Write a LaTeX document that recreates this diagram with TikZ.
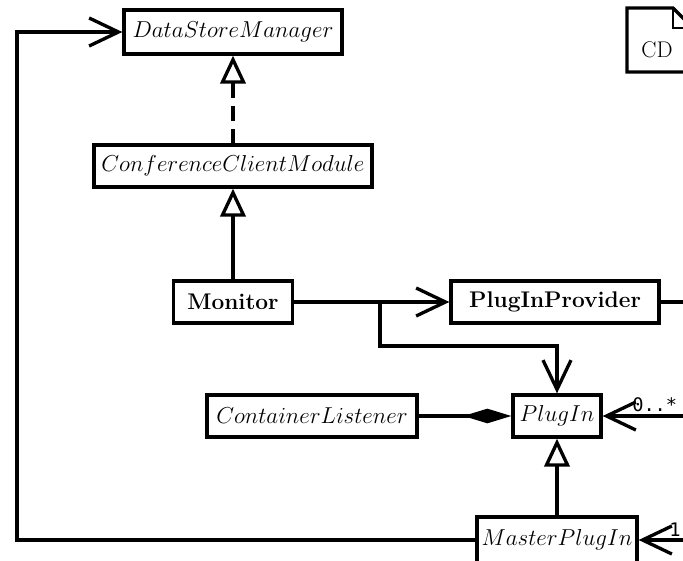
\documentclass[tikz,border=0pt]{standalone}
\usepackage{fontspec}
\newfontfamily\labelfont{DejaVu Sans Mono}
\usetikzlibrary{arrows.meta}
\begin{document}
\begin{tikzpicture}[x=0.75pt,y=-0.75pt,
  umlbox/.style={draw,line width=2.5pt,fill=white,inner sep=0pt,font=\fontsize{17}{20}\selectfont},
  conn/.style={line width=2.5pt},
  openarrow/.style={conn,-{Straight Barb[length=22pt,width=21pt,line width=2.5pt]}},
  realize/.style={conn,-{Triangle[open,length=21pt,width=19pt,line width=2.5pt]}},
  compose/.style={conn,-{Diamond[length=36pt,width=11pt]}},
  multlabel/.style={font=\labelfont\fontsize{14}{16}\selectfont,inner sep=0pt}]
\useasboundingbox (0,0) rectangle (683,561);
\clip (0,0) rectangle (683,561);
\fill[white] (0,0) rectangle (683,561);
% nodes
\node[umlbox,minimum width=163.5pt,minimum height=33pt] (dsm) at (233,32) {$DataStoreManager$};
\node[umlbox,minimum width=208.5pt,minimum height=31.5pt] (ccm) at (233,166) {$ConferenceClientModule$};
\node[umlbox,minimum width=89pt,minimum height=31.5pt] (mon) at (233,302) {\bfseries Monitor};
\node[umlbox,minimum width=156pt,minimum height=31.5pt] (pip) at (555,302) {\bfseries PlugInProvider};
\node[umlbox,minimum width=157.5pt,minimum height=31.5pt] (cl) at (312,416) {$ContainerListener$};
\node[umlbox,minimum width=66pt,minimum height=31.5pt] (pi) at (557,416) {$PlugIn$};
\node[umlbox,minimum width=120pt,minimum height=34.5pt] (mpi) at (557,540) {$MasterPlugIn$};
% CD note (cropped)
\draw[line width=2.5pt] (700,90) -- (700,72) -- (627,72) -- (627,8) -- (673,8) -- (700,35);
\draw[line width=1pt] (673,8) -- (673,28) -- (690,28);
\node[font=\fontsize{17}{20}\selectfont,inner sep=0pt] (cdlabel) at (657,50) {CD};
% free coordinates
\coordinate (pipout) at (690,302);
\coordinate (pin) at (690,416);
\coordinate (mpin) at (690,540);
\coordinate (split) at (380,302);
\coordinate (loopA) at (17,540);
\coordinate (loopB) at (17,32);
% connectors
\draw[realize,dash pattern=on 11pt off 6pt] (ccm.north) -- (dsm.south);
\draw[realize] (mon.north) -- (ccm.south);
\draw[openarrow] (mon.east) -- (pip.west);
\draw[openarrow] (split) |- (557,346) -- (pi.north);
\draw[compose] (cl.east) -- (pi.west);
\draw[openarrow] (pin) -- (pi.east);
\node[multlabel,anchor=south west] (mult0) at (632,412) {0..*};
\draw[realize] (mpi.north) -- (pi.south);
\draw[openarrow] (mpin) -- (mpi.east);
\node[multlabel,anchor=south west] (mult1) at (669,537) {1};
\draw[openarrow] (mpi.west) -- (loopA) -- (loopB) -- (dsm.west);
\draw[conn] (pip.east) -- (pipout);
\end{tikzpicture}
\end{document}
